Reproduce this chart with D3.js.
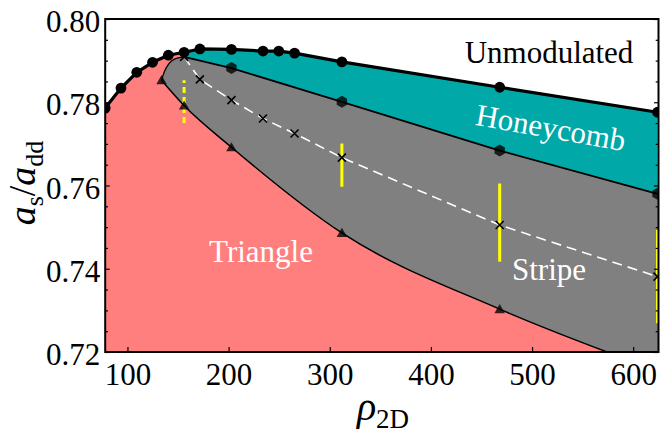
<!DOCTYPE html>
<html><head><meta charset="utf-8">
<script src="https://cdn.jsdelivr.net/npm/d3@7"></script>
<style>
html,body{margin:0;padding:0;background:#fff;}
svg{display:block;}
</style></head><body>
<svg id="chart" width="660" height="444"></svg>
<script>
// Phase diagram: scattering-length ratio vs 2D density
const peak = {rho: 156, a: 0.7909};               // point where the modulated phases meet

// Unmodulated / modulated boundary (circles)
const unmodRho = [78, 93.6, 109.2, 124.8, 140.4, 156, 171.6, 202.8, 234, 249.6, 265.2, 312, 468, 624];
const unmodA   = [0.7786, 0.7834, 0.7872, 0.7896, 0.7913, 0.7920, 0.7928, 0.7927, 0.7923, 0.7923, 0.7918, 0.7897, 0.7836, 0.7776];

// Honeycomb / stripe boundary (hexagons)
const honeyRho = [202.8, 312, 468, 624];
const honeyA   = [0.7882, 0.7801, 0.7684, 0.7580];

// Left edge of the stripe region, rising to the meeting point
const stripeEdgeRho = [133.7, 137, 141, 146];
const stripeEdgeA   = [0.7853, 0.7876, 0.7893, 0.7903];

// Triangle / stripe boundary (triangles)
const triRho = [133.7, 156, 202.8, 312, 468, 624];
const triA   = [0.7853, 0.7792, 0.7692, 0.7486, 0.7303, 0.7155];

// Stripe-phase crossings (crosses, white dashed)
const crossRho = [171.6, 202.8, 234, 265.2, 312, 468, 624];
const crossA   = [0.7855, 0.7805, 0.7761, 0.7725, 0.7667, 0.7505, 0.7381];

// Uncertainty bars (yellow)
const barRho = [156, 312, 468, 624];
const barLo  = [0.7750, 0.7597, 0.7417, 0.7269];
const barHi  = [0.7853, 0.7701, 0.7605, 0.7493];

// Axis ticks
const rhoTicks = [100, 200, 300, 400, 500, 600];
const aTicks = [0.72, 0.74, 0.76, 0.78, 0.80];
const aMinorTicks = d3.range(0.725, 0.80, 0.005).map(v => +v.toFixed(3)).filter(v => !aTicks.some(t => Math.abs(t - v) < 1e-6));

const FONT = "'Liberation Serif', 'Times New Roman', Times, 'Nimbus Roman', 'FreeSerif', 'DejaVu Serif', serif";

const zip = (xs, ys) => xs.map((r, i) => ({rho: r, a: ys[i]}));
const unmod = zip(unmodRho, unmodA);
const honey = zip(honeyRho, honeyA);
const stripeEdge = zip(stripeEdgeRho, stripeEdgeA);
const tri = zip(triRho, triA);
const cross = zip(crossRho, crossA);
const bars = barRho.map((r, i) => ({rho: r, lo: barLo[i], hi: barHi[i]}));

const L = 105.2, R = 658.5, T = 19, B = 352;
const x = d3.scaleLinear().domain([78, 625]).range([L, R]);
const y = d3.scaleLinear().domain([0.72, 0.80]).range([B, T]);

const svg = d3.select("#chart");
svg.append("defs").append("clipPath").attr("id", "plotClip")
  .append("rect").attr("x", L).attr("y", T).attr("width", R - L).attr("height", B - T);

const plot = svg.append("g").attr("clip-path", "url(#plotClip)");

const yBottom = y(0.70);
const area = (curve) => d3.area().x(d => x(d.rho)).y0(yBottom).y1(d => y(d.a)).curve(curve);
const line = (curve) => d3.line().x(d => x(d.rho)).y(d => y(d.a)).curve(curve);
const cont = p => p.replace(/^M/, "L");

// Triangle phase: everything below the unmodulated line
plot.append("path").datum(unmod).attr("d", area(d3.curveLinear)).attr("fill", "#ff7f7f");

// Honeycomb phase: between the unmodulated line and the honeycomb/stripe line
const honeyPath =
  line(d3.curveLinear)(unmod.filter(d => d.rho >= peak.rho)) +
  cont(line(d3.curveLinear)([...honey].reverse().concat([peak]))) + "Z";
plot.append("path").attr("d", honeyPath).attr("fill", "#00a8a8");

// Stripe phase: along the triangle boundary, up the right side, back along the
// honeycomb boundary and down the left edge
const lastTri = tri[tri.length - 1], lastHoney = honey[honey.length - 1];
const stripePath =
  line(d3.curveMonotoneX)(tri) +
  cont(line(d3.curveLinear)([{rho: lastTri.rho + 5, a: lastTri.a}, {rho: lastHoney.rho + 5, a: lastHoney.a}])) +
  cont(line(d3.curveLinear)([...honey].reverse().concat([peak]))) +
  cont(line(d3.curveMonotoneX)([peak, ...[...stripeEdge].reverse()])) + "Z";
plot.append("path").attr("d", stripePath).attr("fill", "#808080");

// Boundary lines
plot.append("path").datum([...stripeEdge, peak]).attr("d", line(d3.curveMonotoneX))
  .attr("fill", "none").attr("stroke", "#000").attr("stroke-width", 1.3);
plot.append("path").datum(tri).attr("d", line(d3.curveMonotoneX))
  .attr("fill", "none").attr("stroke", "#000").attr("stroke-width", 1.5);
plot.append("path").datum([peak, ...honey]).attr("d", line(d3.curveLinear))
  .attr("fill", "none").attr("stroke", "#000").attr("stroke-width", 1.8);
plot.append("path").datum(unmod).attr("d", line(d3.curveLinear))
  .attr("fill", "none").attr("stroke", "#000").attr("stroke-width", 3.2).attr("stroke-linejoin", "round");
plot.append("path").datum([peak, ...cross]).attr("d", line(d3.curveLinear))
  .attr("fill", "none").attr("stroke", "#fff").attr("stroke-width", 1.6).attr("stroke-dasharray", "10,6");

// Uncertainty bars
plot.selectAll("line.bar").data(bars).join("line").attr("class", "bar")
  .attr("x1", d => x(d.rho)).attr("x2", d => x(d.rho))
  .attr("y1", d => y(d.lo)).attr("y2", d => y(d.hi))
  .attr("stroke", "#ffff00").attr("stroke-width", 3)
  .attr("stroke-dasharray", (d, i) => i === 0 ? "6,4" : null);

// Markers
const hexPath = r => "M" + d3.range(6).map(k => {
  const t = Math.PI / 3 * k - Math.PI / 2;
  return [r * Math.cos(t), r * Math.sin(t)].join(",");
}).join("L") + "Z";
plot.selectAll("path.hex").data(honey).join("path").attr("class", "hex")
  .attr("d", hexPath(6)).attr("transform", d => `translate(${x(d.rho)},${y(d.a)})`)
  .attr("fill", "#000").attr("fill-opacity", 0.78);
plot.selectAll("path.tri").data(tri).join("path").attr("class", "tri")
  .attr("d", d3.symbol(d3.symbolTriangle, 48)).attr("transform", d => `translate(${x(d.rho)},${y(d.a) + 1})`)
  .attr("fill", "#000").attr("fill-opacity", 0.78);
const crossG = plot.selectAll("g.cross").data([peak, ...cross]).join("g").attr("class", "cross")
  .attr("transform", d => `translate(${x(d.rho)},${y(d.a)})`);
crossG.append("path").attr("d", "M-4,-4L4,4M-4,4L4,-4").attr("stroke", "#000").attr("stroke-width", 1.6);
plot.selectAll("circle.unmod").data(unmod).join("circle").attr("class", "unmod")
  .attr("cx", d => x(d.rho)).attr("cy", d => y(d.a)).attr("r", 5.4).attr("fill", "#000");

// Region labels
const fs = 31;
const label = (sel) => sel.attr("text-anchor", "middle").attr("font-size", fs).style("font-family", FONT);
svg.append("text").attr("x", 549).attr("y", 63).call(label).attr("fill", "#000").text("Unmodulated");
svg.append("text").attr("transform", "translate(549,138) rotate(10)").call(label).attr("fill", "#fff").text("Honeycomb");
svg.append("text").attr("x", 261).attr("y", 262).call(label).attr("fill", "#fff").text("Triangle");
svg.append("text").attr("x", 549).attr("y", 280).call(label).attr("fill", "#fff").text("Stripe");

// Axes (inward ticks)
const xAxis = svg.append("g").attr("transform", `translate(0,${B})`)
  .call(d3.axisBottom(x).tickValues(rhoTicks).tickSize(-5).tickFormat(d3.format("d")));
xAxis.selectAll("text").attr("y", 33).attr("dy", null).attr("font-size", fs)
  .style("font-family", FONT).attr("fill", "#000");

const yAxis = svg.append("g").attr("transform", `translate(${L},0)`)
  .call(d3.axisLeft(y).tickValues(aTicks).tickSize(-4.5).tickFormat(d3.format(".2f")));
yAxis.selectAll("text").attr("x", -5).attr("dy", "12.5").attr("font-size", fs)
  .style("font-family", FONT).attr("fill", "#000");
svg.append("g").attr("transform", `translate(${L},0)`)
  .call(d3.axisLeft(y).tickValues(aMinorTicks).tickSize(-2.8).tickFormat(""));

svg.append("g").attr("transform", `translate(${R},0)`)
  .call(d3.axisRight(y).tickValues(aTicks).tickSize(-4.5).tickFormat(""));
svg.append("g").attr("transform", `translate(${R},0)`)
  .call(d3.axisRight(y).tickValues(aMinorTicks).tickSize(-2.8).tickFormat(""));

svg.selectAll(".domain").remove();
svg.selectAll(".tick line").attr("stroke", "#000").attr("stroke-width", 1.2);

// Frame
svg.append("rect").attr("x", L).attr("y", T).attr("width", R - L).attr("height", B - T)
  .attr("fill", "none").attr("stroke", "#000").attr("stroke-width", 2);

// Axis titles
const xt = svg.append("text").attr("x", 383).attr("y", 420).attr("text-anchor", "middle")
  .attr("font-size", 40).style("font-family", FONT);
xt.append("tspan").attr("font-style", "italic").text("ρ");
xt.append("tspan").attr("font-size", 27).attr("dy", 8).text("2D");

const yt = svg.append("text").attr("transform", "translate(35,183) rotate(-90)")
  .attr("text-anchor", "middle").attr("font-size", 38).style("font-family", FONT);
yt.append("tspan").attr("font-style", "italic").text("a");
yt.append("tspan").attr("font-size", 26).attr("dy", 8).text("s");
yt.append("tspan").attr("dy", -8).text("/");
yt.append("tspan").attr("font-style", "italic").text("a");
yt.append("tspan").attr("font-size", 26).attr("dy", 8).text("dd");
</script>
</body></html>
